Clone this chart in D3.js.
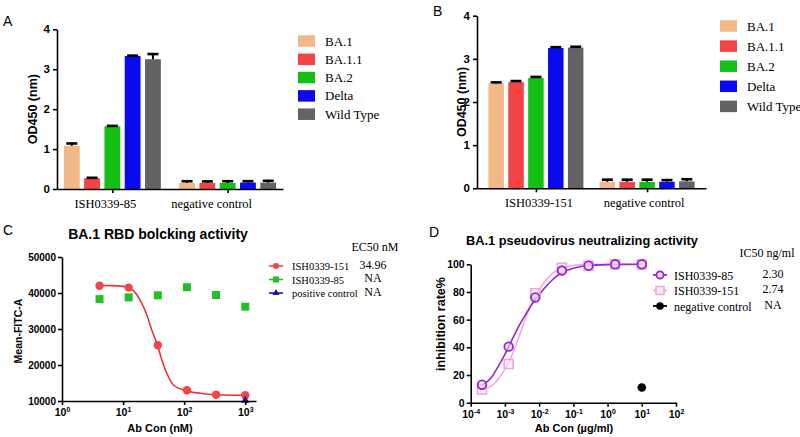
<!DOCTYPE html>
<html><head><meta charset="utf-8">
<script src="https://cdn.jsdelivr.net/npm/d3@7"></script>
<style>body{margin:0;background:#fff}svg{display:block}</style>
</head><body><svg id="c" width="800" height="437"></svg>
<script>
// ---------- DATA ----------
const variants = ["BA.1", "BA.1.1", "BA.2", "Delta", "Wild Type"];
const groupsA = ["ISH0339-85", "negative control"];
const valuesA = [[1.08, 0.27, 1.57, 3.33, 3.25], [0.15, 0.15, 0.15, 0.16, 0.16]];
const errorsA = [[0.06, 0.01, 0.01, 0.01, 0.13], [0.045, 0.04, 0.045, 0.035, 0.045]];
const groupsB = ["ISH0339-151", "negative control"];
const valuesB = [[2.43, 2.46, 2.56, 3.25, 3.26], [0.15, 0.15, 0.15, 0.15, 0.16]];
const errorsB = [[0.025, 0.025, 0.02, 0.02, 0.02], [0.05, 0.05, 0.05, 0.04, 0.05]];
const yTicksBar = [0, 1, 2, 3, 4];

const concC = [4.115, 12.35, 37.04, 111.1, 333.3, 1000];
const ish151C = [42000, 41500, 25500, 13000, 11750, 11600];
const ish85C = [38300, 38800, 39350, 41600, 39450, 36200];
const posCtrlConcC = [1000];
const posCtrlC = [10150];
const fit151ConcC = [4.115, 6.93, 11.5, 14.8, 19.0, 24.5, 29.5, 36.5, 43.1, 52.0, 66.8, 108, 183, 322, 1000];
const fit151C = [42100, 42050, 41700, 40650, 38050, 33900, 29700, 25550, 21400, 17700, 14450, 12850, 12150, 11750, 11600];
const xTicksC = [1, 10, 100, 1000];
const yTicksC = [10000, 20000, 30000, 40000, 50000];
const legendC = ["ISH0339-151", "ISH0339-85", "positive control"];
const ec50C = ["34.96", "NA", "NA"];

const concD = [0.000214, 0.001286, 0.00772, 0.0463, 0.2778, 1.667, 10];
const ish85D = [13, 40.5, 76, 95.5, 99, 100, 100];
const ish151D = [9.5, 28, 79, 97.5, 99, 100, 100];
const negConcD = [10];
const negD = [11];
const fitConcD = [0.000214, 0.000398, 0.000631, 0.001, 0.00158, 0.00251, 0.00398, 0.00631, 0.01, 0.0158, 0.0251, 0.0398, 0.0631, 0.1, 0.251, 1, 10];
const fit85D = [12.5, 18, 26, 35, 45, 55, 63.5, 71.5, 78, 84, 89, 93, 95.5, 97.2, 99, 99.8, 100];
const fit151D = [9.5, 12, 17, 24, 34, 47, 60.5, 72.5, 81.5, 88.5, 93.5, 96.5, 98.3, 99.2, 99.8, 100, 100];
const xTicksD = [1e-4, 1e-3, 1e-2, 1e-1, 1, 10, 100];
const yTicksD = [0, 20, 40, 60, 80, 100];
const legendD = ["ISH0339-85", "ISH0339-151", "negative control"];
const ic50D = ["2.30", "2.74", "NA"];

// ---------- STYLE ----------
const variantColors = ["#f2b886", "#f24444", "#14c014", "#0a0af0", "#636363"];
const SANS = "'Liberation Sans', Arial, sans-serif";
const SERIF = "'Liberation Serif', 'Times New Roman', serif";
const svg = d3.select("#c");
svg.append("rect").attr("width", 800).attr("height", 437).attr("fill", "#fff");

function styleAxis(g, fs) {
  g.attr("font-family", null).attr("font-size", null);
  g.selectAll("path.domain").attr("stroke", "#000").attr("stroke-width", 1.6);
  g.selectAll(".tick line").attr("stroke", "#000").attr("stroke-width", 1.6);
  g.selectAll(".tick text").attr("font-family", SANS).attr("font-weight", "bold")
    .attr("font-size", fs || 10.5).attr("fill", "#000");
}
function supLabels(g) {
  g.selectAll(".tick text").each(function (d) {
    const t = d3.select(this); t.text("");
    t.append("tspan").text("10");
    t.append("tspan").attr("dy", -4).attr("font-size", 7).text(String(Math.round(Math.log10(d))));
  });
}
function text(x, y, s, o) {
  const t = svg.append("text").attr("x", x).attr("y", y).text(s)
    .attr("font-family", o.family || SANS).attr("font-size", o.size || 12)
    .attr("font-weight", o.weight || "normal").attr("fill", "#000")
    .attr("text-anchor", o.anchor || "start");
  if (o.rotate) t.attr("transform", `rotate(-90,${x},${y})`);
  return t;
}

// ---------- BAR PANELS ----------
function barPanel(o) {
  const x0 = d3.scalePoint().domain(o.groups).range([o.xl, o.xr]).padding(o.pad);
  const x1 = d3.scaleBand().domain(variants).range([-o.half, o.half]).paddingInner(0.22);
  const y = d3.scaleLinear().domain([0, 4]).range([o.yb, o.yt]);
  const g = svg.append("g");
  o.groups.forEach((grp, gi) => {
    variants.forEach((v, vi) => {
      const val = o.values[gi][vi], err = o.errors[gi][vi];
      const bx = x0(grp) + x1(v), bw = x1.bandwidth(), cx = bx + bw / 2;
      g.append("rect").attr("x", bx).attr("y", y(val)).attr("width", bw)
        .attr("height", y(0) - y(val)).attr("fill", variantColors[vi]);
      g.append("line").attr("x1", cx).attr("x2", cx).attr("y1", y(val)).attr("y2", y(val + err))
        .attr("stroke", "#000").attr("stroke-width", 2);
      g.append("line").attr("x1", cx - 5.5).attr("x2", cx + 5.5).attr("y1", y(val + err)).attr("y2", y(val + err))
        .attr("stroke", "#000").attr("stroke-width", 2.6);
    });
  });
  const ya = g.append("g").attr("transform", `translate(${o.xl},0)`)
    .call(d3.axisLeft(y).tickValues(yTicksBar).tickFormat(d3.format("d")).tickSize(4).tickSizeOuter(0).tickPadding(3));
  styleAxis(ya, 11.5);
  const xa = g.append("g").attr("transform", `translate(0,${o.yb})`)
    .call(d3.axisBottom(x0).tickSize(4).tickSizeOuter(0).tickFormat(""));
  styleAxis(xa);
  o.groups.forEach((grp, gi) => {
    text(x0(grp) + o.labelDx[gi], o.yb + 19, grp, { family: SERIF, size: 12.5, anchor: "middle" });
  });
  text(o.ylabX, (o.yb + o.yt) / 2, "OD450 (nm)", { size: 12.5, weight: "bold", anchor: "middle", rotate: true });
  variants.forEach((v, i) => {
    const cy = o.legY + i * o.legStep;
    svg.append("rect").attr("x", o.legX).attr("y", cy - 5.75).attr("width", 17).attr("height", 11.5)
      .attr("fill", variantColors[i]);
    text(o.legX + 27, cy + 4.5, v, { family: SERIF, size: 13 });
  });
  text(o.pl[0], o.pl[1], o.letter, { size: 14 });
}
barPanel({ groups: groupsA, values: valuesA, errors: errorsA, xl: 57, xr: 283, pad: 0.48, half: 48.5,
  yb: 189, yt: 29.3, labelDx: [-7, -16], ylabX: 37, legX: 298, legY: 41, legStep: 18.3, pl: [3, 26], letter: "A" });
barPanel({ groups: groupsB, values: valuesB, errors: errorsB, xl: 477, xr: 706, pad: 0.53, half: 47.5,
  yb: 188.3, yt: 15.7, labelDx: [3, -3], ylabX: 466, legX: 720, legY: 26, legStep: 20.1, pl: [433, 16], letter: "B" });

// ---------- PANEL C ----------
(function () {
  const x = d3.scaleLog().domain([1, 1500]).range([62, 256]);
  const y = d3.scaleLinear().domain([10000, 50000]).range([401, 257]);
  const g = svg.append("g");
  const line = d3.line().x((d, i) => x(fit151ConcC[i])).y(d => y(d)).curve(d3.curveMonotoneX);
  g.append("path").attr("d", line(fit151C)).attr("fill", "none").attr("stroke", "#e83434").attr("stroke-width", 1.6);
  ish85C.forEach((v, i) => g.append("rect").attr("x", x(concC[i]) - 4).attr("y", y(v) - 4)
    .attr("width", 8).attr("height", 8).attr("fill", "#22c022"));
  ish151C.forEach((v, i) => g.append("circle").attr("cx", x(concC[i])).attr("cy", y(v)).attr("r", 4.2).attr("fill", "#f04646"));
  const tri = d3.symbol().type(d3.symbolTriangle).size(30);
  posCtrlC.forEach((v, i) => g.append("path").attr("d", tri()).attr("fill", "#1a1aa8")
    .attr("transform", `translate(${x(posCtrlConcC[i])},${y(v)})`));
  const ya = g.append("g").attr("transform", "translate(62,0)")
    .call(d3.axisLeft(y).tickValues(yTicksC).tickFormat(d3.format("d")).tickSize(4).tickSizeOuter(0).tickPadding(2));
  styleAxis(ya, 10);
  const xa = g.append("g").attr("transform", "translate(0,401)")
    .call(d3.axisBottom(x).tickValues(xTicksC).tickSize(4).tickSizeOuter(0).tickPadding(4));
  styleAxis(xa, 10.5);
  supLabels(xa);
  text(158, 239, "BA.1 RBD bolcking activity", { size: 14, weight: "bold", anchor: "middle" });
  text(160, 432, "Ab Con (nM)", { size: 11, weight: "bold", anchor: "middle" });
  text(22, 331, "Mean-FITC-A", { size: 10.5, weight: "bold", anchor: "middle", rotate: true });
  text(3, 235, "C", { size: 14 });
  text(375, 251, "EC50 nM", { family: SERIF, size: 12, anchor: "middle" });
  const cols = ["#f04646", "#22c022", "#1a1aa8"];
  legendC.forEach((s, i) => {
    const cy = 266 + i * 13.5;
    svg.append("line").attr("x1", 269).attr("x2", 283).attr("y1", cy).attr("y2", cy).attr("stroke", cols[i]).attr("stroke-width", 1.6);
    if (i === 0) svg.append("circle").attr("cx", 276).attr("cy", cy).attr("r", 3).attr("fill", cols[i]);
    if (i === 1) svg.append("rect").attr("x", 273).attr("y", cy - 3).attr("width", 6).attr("height", 6).attr("fill", cols[i]);
    if (i === 2) svg.append("path").attr("d", d3.symbol().type(d3.symbolTriangle).size(22)()).attr("fill", cols[i])
      .attr("transform", `translate(276,${cy})`);
    text(292, cy + 4, s, { family: SERIF, size: 10.5 });
    text(373, cy + 2.5, ec50C[i], { family: SERIF, size: 12, anchor: "middle" });
  });
})();

// ---------- PANEL D ----------
(function () {
  const x = d3.scaleLog().domain([1e-4, 100]).range([470.7, 676]);
  const y = d3.scaleLinear().domain([0, 100]).range([402.7, 264.3]);
  const g = svg.append("g");
  const purple = "#9428c8", pink = "#f2a6de";
  const line = d3.line().x((d, i) => x(fitConcD[i])).y(d => y(d)).curve(d3.curveMonotoneX);
  g.append("path").attr("d", line(fit151D)).attr("fill", "none").attr("stroke", pink).attr("stroke-width", 1.5);
  g.append("path").attr("d", line(fit85D)).attr("fill", "none").attr("stroke", purple).attr("stroke-width", 1.6);
  ish151D.forEach((v, i) => g.append("rect").attr("x", x(concD[i]) - 4.5).attr("y", y(v) - 4.5)
    .attr("width", 9).attr("height", 9).attr("fill", "#fbe6f6").attr("fill-opacity", 0.6).attr("stroke", pink).attr("stroke-width", 1.6));
  ish85D.forEach((v, i) => g.append("circle").attr("cx", x(concD[i])).attr("cy", y(v)).attr("r", 4.3)
    .attr("fill", "#ecd0f6").attr("fill-opacity", 0.6).attr("stroke", purple).attr("stroke-width", 1.8));
  negD.forEach((v, i) => g.append("circle").attr("cx", x(negConcD[i])).attr("cy", y(v)).attr("r", 4.3).attr("fill", "#000"));
  const ya = g.append("g").attr("transform", "translate(470.7,0)")
    .call(d3.axisLeft(y).tickValues(yTicksD).tickSize(4).tickSizeOuter(0).tickPadding(2));
  styleAxis(ya, 10.5);
  const xa = g.append("g").attr("transform", "translate(0,402.7)")
    .call(d3.axisBottom(x).tickValues(xTicksD).tickSize(4).tickSizeOuter(0).tickPadding(4));
  styleAxis(xa, 10.5);
  supLabels(xa);
  text(582, 245, "BA.1 pseudovirus neutralizing activity", { size: 12.8, weight: "bold", anchor: "middle" });
  text(574, 432, "Ab Con (µg/ml)", { size: 11, weight: "bold", anchor: "middle" });
  text(445, 324, "inhibition rate%", { size: 12.5, weight: "bold", anchor: "middle", rotate: true });
  text(429, 237, "D", { size: 14 });
  text(767, 257, "IC50 ng/ml", { family: SERIF, size: 12, anchor: "middle" });
  const cols = [purple, pink, "#000"];
  legendD.forEach((s, i) => {
    const cy = 275 + i * 15.5;
    svg.append("line").attr("x1", 653).attr("x2", 667).attr("y1", cy).attr("y2", cy).attr("stroke", cols[i]).attr("stroke-width", 1.8);
    if (i === 0) svg.append("circle").attr("cx", 660).attr("cy", cy).attr("r", 3.6).attr("fill", "#ecd0f6").attr("stroke", purple).attr("stroke-width", 1.8);
    if (i === 1) svg.append("rect").attr("x", 656).attr("y", cy - 4).attr("width", 8).attr("height", 8).attr("fill", "#fbe6f6").attr("stroke", pink).attr("stroke-width", 1.5);
    if (i === 2) svg.append("circle").attr("cx", 660).attr("cy", cy).attr("r", 3.8).attr("fill", "#000");
    text(674, cy + 4.5, s, { family: SERIF, size: 12 });
    text(773, cy + 2.5, ic50D[i], { family: SERIF, size: 12, anchor: "middle" });
  });
})();
</script></body></html>
